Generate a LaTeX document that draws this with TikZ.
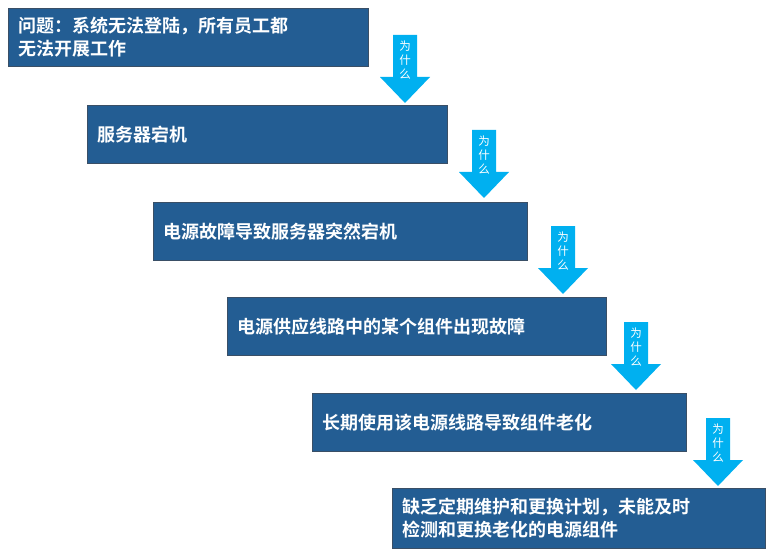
\documentclass[tikz,border=0pt]{standalone}
\usepackage{fontspec}
\setmainfont{Noto Sans CJK SC}
\newfontfamily\cjkbold{Noto Sans CJK SC Bold}
\definecolor{boxblue}{HTML}{235D93}
\definecolor{boxedge}{HTML}{3A4F66}
\definecolor{whyblue}{HTML}{00B0F0}
\tikzset{
  causebox/.style={draw=boxedge, line width=1pt, fill=boxblue, text=white, anchor=north west,
    minimum height=58pt, align=left, text width=#1, inner xsep=10pt, font=\cjkbold\fontsize{18}{23}\selectfont},
  whytext/.style={text=white, font=\fontsize{11.5}{14}\selectfont, align=center}
}
\begin{document}
\begin{tikzpicture}[x=1pt,y=-1pt]
  \useasboundingbox (0,0) rectangle (777,559);
  \fill[white] (0,0) rectangle (777,559);
  % cause chain
  \node[causebox=340pt, minimum width=360pt, anchor=north west] (q) at (8,8) {问题：系统无法登陆，所有员工都\\无法开展工作};
  \node[causebox=340pt, minimum width=360pt, minimum height=58pt] (c1) at (87,105) {服务器宕机};
  \node[causebox=354pt, minimum width=374pt] (c2) at (153,202) {电源故障导致服务器突然宕机};
  \node[causebox=359pt, minimum width=379pt] (c3) at (227,297) {电源供应线路中的某个组件出现故障};
  \node[causebox=354pt, minimum width=374pt] (c4) at (312,393) {长期使用该电源线路导致组件老化};
  \node[causebox=353pt, minimum width=373pt, minimum height=60pt] (c5) at (392,488) {缺乏定期维护和更换计划，未能及时\\检测和更换老化的电源组件};
  % why arrows
  \foreach \n/\x/\y in {w1/405/35, w2/484/130, w3/563/226, w4/636/322, w5/718/418} {
    \fill[whyblue] (\x-12,\y) -- (\x+12,\y) -- (\x+12,\y+42) -- (\x+25,\y+42)
      -- (\x,\y+68) -- (\x-25,\y+42) -- (\x-12,\y+42) -- cycle;
    \node[whytext] (\n t) at (\x,\y+25) {为\\什\\么};
  }
\end{tikzpicture}
\end{document}
